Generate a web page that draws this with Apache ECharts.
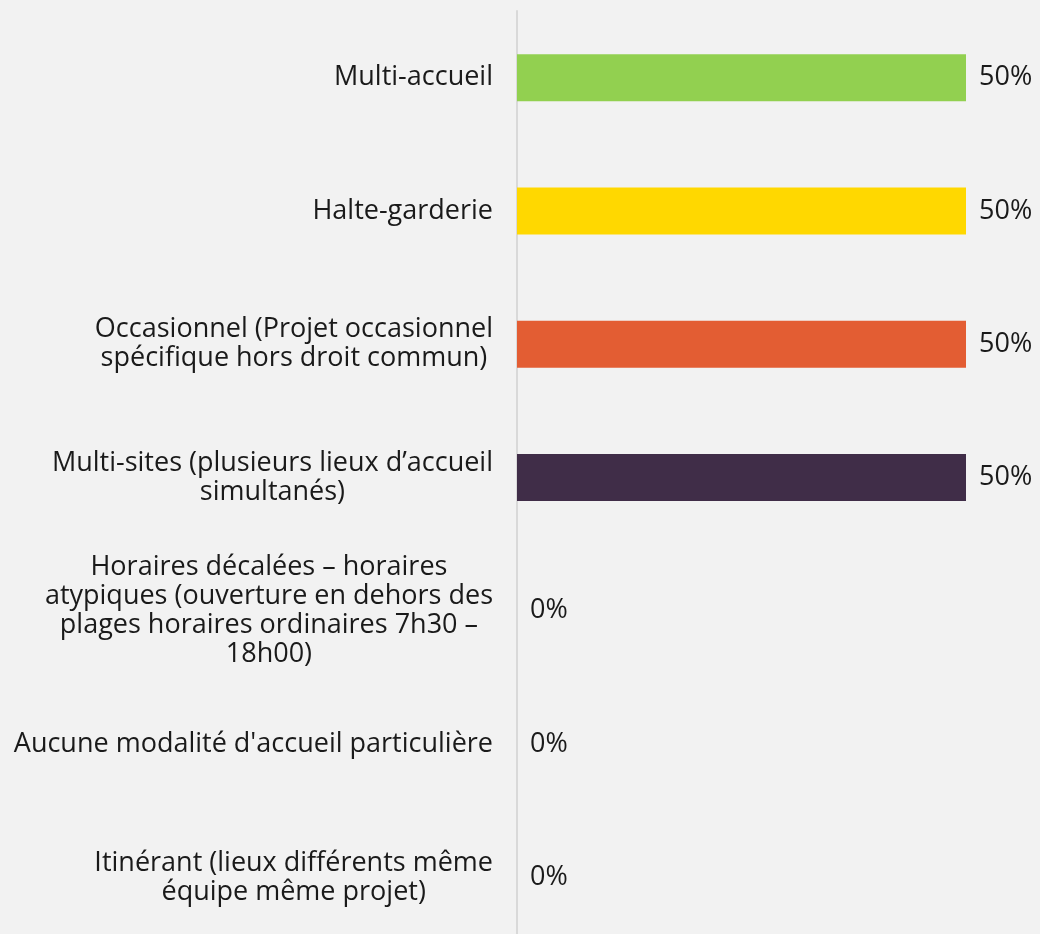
<!DOCTYPE html>
<html>
<head>
<meta charset="utf-8">
<script src="https://cdn.jsdelivr.net/npm/echarts@6/dist/echarts.min.js"></script>
<style>
html,body{margin:0;padding:0;background:#f2f2f2;}
#main{width:1040px;height:934px;}
</style>
</head>
<body>
<div id="main"></div>
<script>
const categories = [
  "Multi-accueil",
  "Halte-garderie",
  "Occasionnel (Projet occasionnel\nspécifique hors droit commun)",
  "Multi-sites (plusieurs lieux d’accueil\nsimultanés)",
  "Horaires décalées – horaires\natypiques (ouverture en dehors des\nplages horaires ordinaires 7h30 –\n18h00)",
  "Aucune modalité d'accueil particulière",
  "Itinérant (lieux différents même\néquipe même projet)"
];
const values = [50, 50, 50, 50, 0, 0, 0];
const barColors = ["#92d050", "#ffd800", "#e35d33", "#402d48", "#7f7f7f", "#7f7f7f", "#7f7f7f"];

const FONT = "Open Sans";
const FS = 27;
const chart = echarts.init(document.getElementById('main'));
chart.setOption({
  backgroundColor: '#f2f2f2',
  animation: false,
  grid: { left: 517, right: 74, top: 11, height: 933, containLabel: false, outerBoundsMode: 'none' },
  xAxis: {
    type: 'value', min: 0, max: 50, show: false,
    splitLine: { show: false }
  },
  yAxis: {
    type: 'category',
    inverse: true,
    data: categories,
    axisLine: { show: true, lineStyle: { color: '#d9d9d9', width: 2 } },
    axisTick: { show: false },
    axisLabel: {
      margin: 24,
      color: '#1a1a1a',
      fontFamily: FONT,
      fontSize: FS,
      lineHeight: 29,
      align: 'right',
      formatter: function (v) {
        return v.split('\n').map(function (l) { return '{c|' + l + '}'; }).join('\n');
      },
      rich: {
        c: { align: 'center', fontFamily: FONT, fontSize: FS, lineHeight: 29, color: '#1a1a1a' }
      }
    }
  },
  series: [{
    type: 'bar',
    barWidth: 47,
    data: values.map(function (v, i) { return { value: v, itemStyle: { color: barColors[i] } }; }),
    label: {
      show: true,
      position: 'right',
      distance: 13,
      color: '#1a1a1a',
      fontFamily: FONT,
      fontSize: FS,
      formatter: function (p) { return p.value + '%'; }
    }
  }]
});
</script>
</body>
</html>
